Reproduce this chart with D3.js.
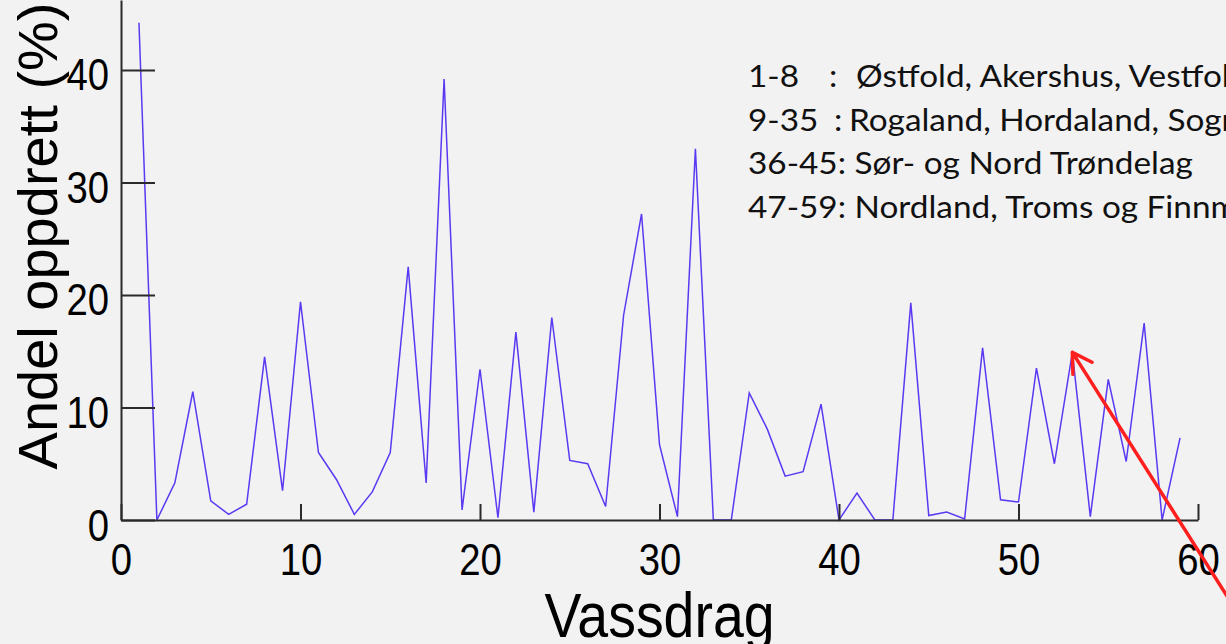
<!DOCTYPE html>
<html>
<head>
<meta charset="utf-8">
<script src="https://cdn.jsdelivr.net/npm/d3@7"></script>
<style>
  html, body { margin: 0; padding: 0; background: #f2f2f2; overflow: hidden; }
  svg { display: block; }
</style>
</head>
<body>
<div id="chart"></div>
<script>
// Vassdrag nr. 1..59 and andel oppdrett (%)
const vassdrag = d3.range(1, 60);
const andelOppdrett = [
  44.2, 0, 3.3, 11.4, 1.7, 0.5, 1.4, 14.5, 2.6, 19.4,
  6.0, 3.6, 0.5, 2.5, 6.0, 22.5, 3.3, 39.2, 0.9, 13.4,
  0.2, 16.7, 0.7, 18.0, 5.3, 5.0, 1.2, 18.2, 27.2, 6.7,
  0.3, 33.0, 0, 0, 11.3, 8.1, 3.9, 4.3, 10.3, 0,
  2.4, 0, 0, 19.3, 0.4, 0.7, 0.1, 15.3, 1.8, 1.6,
  13.5, 5.0, 14.9, 0.3, 12.5, 5.2, 17.5, 0, 7.3
];
const xTicks = [0, 10, 20, 30, 40, 50, 60];
const yTicks = [0, 10, 20, 30, 40];
const legendLines = [
  ["1-8", ":", "Østfold, Akershus, Vestfold, Buskerud"],
  ["9-35", ":", "Rogaland, Hordaland, Sogn og Fjordane"],
  ["36-45: Sør- og Nord Trøndelag"],
  ["47-59: Nordland, Troms og Finnmark"]
];
const markedVassdrag = 53;

const width = 1226;
const height = 644;

const svg = d3.select("#chart")
              .append("svg")
              .attr("width", width)
              .attr("height", height);

svg.append("rect")
   .attr("width", width)
   .attr("height", height)
   .attr("fill", "#f2f2f2");

const x = d3.scaleLinear()
            .domain([0, 60])
            .range([121, 1198]);

const y = d3.scaleLinear()
            .domain([0, 46.22])
            .range([520, 0]);

// line
const line = d3.line()
               .x((d, i) => x(vassdrag[i]))
               .y((d) => y(d));

svg.append("path")
   .datum(andelOppdrett)
   .attr("d", line)
   .attr("fill", "none")
   .attr("stroke", "#4a25f2")
   .attr("stroke-width", 1.5)
   .attr("stroke-linejoin", "miter")
   .attr("opacity", 0.9);

// axes
const xAxis = svg.append("g")
                 .attr("transform", `translate(0,${y(0)})`)
                 .call(d3.axisBottom(x).tickValues(xTicks).tickSize(-16).tickSizeOuter(0));

const yAxis = svg.append("g")
                 .attr("transform", `translate(${x(0)},0)`)
                 .call(d3.axisLeft(y).tickValues(yTicks).tickSize(-34).tickSizeOuter(0));

[xAxis, yAxis].forEach((ax) => {
  ax.select(".domain").attr("stroke", "#2a2a2a").attr("stroke-width", 2);
  ax.selectAll(".tick line").attr("stroke", "#2a2a2a").attr("stroke-width", 2);
  ax.selectAll(".tick text")
    .attr("fill", "#000")
    .attr("font-family", "'Liberation Sans', Arial, sans-serif")
    .attr("font-size", 44);
});

xAxis.selectAll(".tick text")
     .attr("y", 55)
     .attr("dy", 0)
     .attr("text-anchor", "middle")
     .attr("transform", "scale(0.87,1)");

yAxis.selectAll(".tick text")
     .attr("x", -12 / 0.87)
     .attr("dy", 20)
     .attr("text-anchor", "end")
     .attr("transform", "scale(0.87,1)");

// axis titles
svg.append("text")
   .attr("transform", `translate(${x(30)},637) scale(0.88,1)`)
   .attr("text-anchor", "middle")
   .attr("font-family", "'Liberation Sans', Arial, sans-serif")
   .attr("font-size", 63)
   .attr("fill", "#000")
   .text("Vassdrag");

svg.append("text")
   .attr("transform", "translate(57,236) rotate(-90)")
   .attr("text-anchor", "middle")
   .attr("font-family", "'Liberation Sans', Arial, sans-serif")
   .attr("font-size", 56)
   .attr("fill", "#000")
   .text("Andel oppdrett (%)");

// legend text (fylker)
const legend = svg.append("g")
                  .attr("font-family", "Lato, 'Open Sans', sans-serif")
                  .attr("font-size", 31)
                  .attr("fill", "#111");

const probe = legend.append("text").text(legendLines[2][0]);
const s = 445 / probe.node().getComputedTextLength();
probe.remove();
legend.attr("transform", `translate(748,0) scale(${s},1)`);

const colonX = [829, 834];
const restX = [856, 849];
legendLines.forEach((parts, i) => {
  const t = legend.append("text").attr("y", 87 + i * 43.6);
  if (parts.length === 1) {
    t.append("tspan").attr("x", 0).text(parts[0]);
  } else {
    t.append("tspan").attr("x", 0).text(parts[0]);
    t.append("tspan").attr("x", (colonX[i] - 748) / s).text(parts[1]);
    t.append("tspan").attr("x", (restX[i] - 748) / s).text(parts[2]);
  }
});

// red arrow pointing at vassdrag 53
const tipX = x(markedVassdrag);
const tipY = y(andelOppdrett[markedVassdrag - 1]);
const ang = Math.atan2(260, 165);
const tailLen = 320;
const barb = 22;
const spread = 0.54;
const arrow = d3.path();
arrow.moveTo(tipX + Math.cos(ang) * tailLen, tipY + Math.sin(ang) * tailLen);
arrow.lineTo(tipX, tipY);
arrow.moveTo(tipX + Math.cos(ang - spread) * barb, tipY + Math.sin(ang - spread) * barb);
arrow.lineTo(tipX, tipY);
arrow.lineTo(tipX + Math.cos(ang + spread) * barb, tipY + Math.sin(ang + spread) * barb);

svg.append("path")
   .attr("d", arrow.toString())
   .attr("fill", "none")
   .attr("stroke", "#ff1f1f")
   .attr("stroke-width", 3.5)
   .attr("stroke-linecap", "round")
   .attr("stroke-linejoin", "round");
</script>
</body>
</html>
